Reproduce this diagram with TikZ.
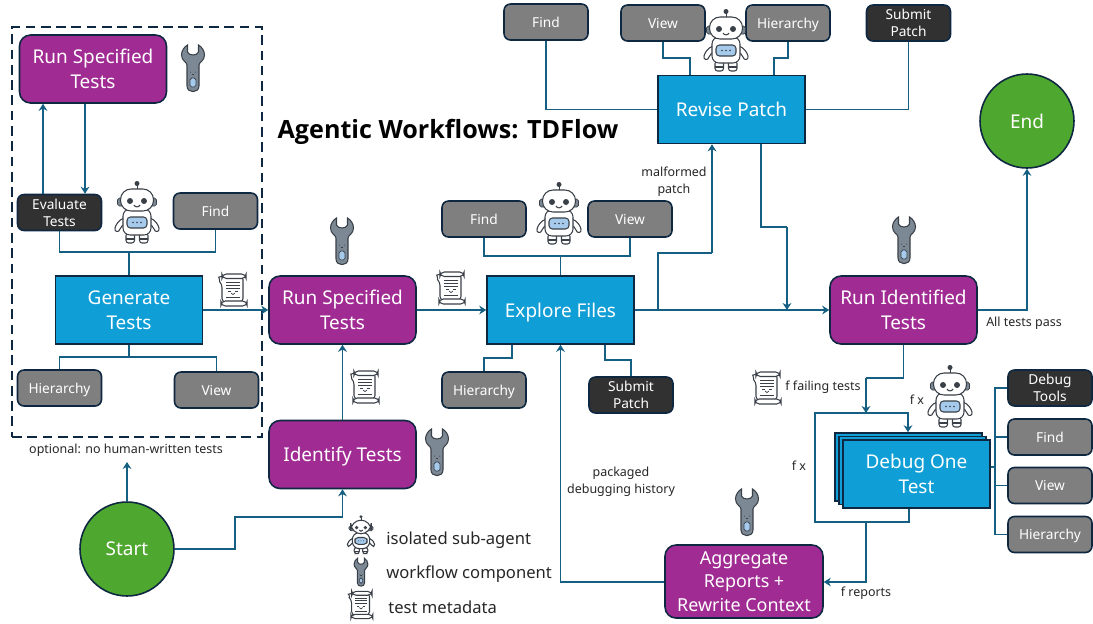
\documentclass[tikz,border=0pt]{standalone}
\usepackage{fontspec}
\setmainfont{Noto Sans}
\newfontfamily\titlefont{Open Sans}
\usetikzlibrary{arrows.meta}

\definecolor{linkteal}{HTML}{156082}
\definecolor{edgenavy}{HTML}{0E2841}
\definecolor{boxblue}{HTML}{0F9ED5}
\definecolor{boxpurple}{HTML}{A02B93}
\definecolor{boxgreen}{HTML}{4EA72E}
\definecolor{toolgrey}{HTML}{7F7F7F}
\definecolor{tooldark}{HTML}{313131}
\definecolor{iconline}{HTML}{3A4048}
\definecolor{iconblue}{HTML}{A6CAEC}
\definecolor{icongrey}{HTML}{7C8994}

\tikzset{
  bigtext/.style={font=\fontsize{10.8}{14}\selectfont, text=white, align=center, text depth=-1pt},
  smalltext/.style={font=\fontsize{7.8}{9.6}\selectfont, text=white, align=center, text depth=-1pt},
  labeltext/.style={font=\fontsize{7.1}{9.6}\selectfont, text=black!85, align=center, inner sep=0pt},
  legendtext/.style={font=\fontsize{9.45}{11}\selectfont, text=black!85, anchor=west, inner sep=0pt},
  purplebox/.style={draw=edgenavy, line width=0.9pt, fill=boxpurple, rounded corners=0.22cm,
    minimum width=2.94cm, minimum height=1.36cm, inner sep=0pt, bigtext},
  bluebox/.style={draw=edgenavy, line width=0.9pt, fill=boxblue,
    minimum width=2.94cm, minimum height=1.36cm, inner sep=0pt, bigtext},
  toolbox/.style={draw=edgenavy, line width=0.9pt, fill=toolgrey, rounded corners=0.13cm,
    minimum width=1.68cm, minimum height=0.72cm, inner sep=0pt, smalltext},
  darkbox/.style={toolbox, fill=tooldark},
  endpoint/.style={circle, draw=edgenavy, line width=0.9pt, fill=boxgreen,
    minimum size=1.88cm, inner sep=0pt, bigtext},
  link/.style={draw=linkteal, line width=0.95pt},
  arrowlink/.style={link, -{Stealth[length=4pt,width=5pt]}},
  robot/.pic={
    \draw[iconline, line width=0.5pt] (0,-24) -- (0,-28);
    \fill[iconline] (0,-29.5) circle (2.5);
    \fill[icongrey, draw=iconline, line width=0.4pt, rounded corners=1pt] (-19.5,-15) rectangle (19.5,-7);
    \draw[iconline, line width=0.6pt, fill=white] (-13,5) .. controls (-18,7) and (-21,11) .. (-22,15)
      .. controls (-23,19) and (-18,20) .. (-17,16) .. controls (-16,13) and (-14,12) .. (-12,11) -- cycle;
    \draw[iconline, line width=0.6pt, fill=white] (13,5) .. controls (18,7) and (21,11) .. (22,15)
      .. controls (23,19) and (18,20) .. (17,16) .. controls (16,13) and (14,12) .. (12,11) -- cycle;
    \draw[iconline, line width=0.6pt, fill=white, rounded corners=1.5pt] (-11,20) rectangle (-2.5,30);
    \draw[iconline, line width=0.6pt, fill=white, rounded corners=1.5pt] (2.5,20) rectangle (11,30);
    \draw[iconline, line width=0.6pt] (-11,26) -- (-2.5,26) (2.5,26) -- (11,26);
    \draw[iconline, line width=0.6pt, fill=white, rounded corners=4pt] (-14,-4) rectangle (14,22);
    \draw[iconline, line width=0.6pt, fill=white, rounded corners=6pt] (-16.5,-24) rectangle (16.5,-2);
    \fill[iconline] (-7,-12) circle (3) (7,-12) circle (3);
    \draw[iconline, line width=0.6pt] (-3,-8) .. controls (-1.5,-5.5) and (1.5,-5.5) .. (3,-8);
    \draw[iconline, line width=0.6pt, fill=iconblue, rounded corners=2pt] (-10,4) rectangle (10,15);
    \fill[iconline] (-4,9.5) circle (0.8) (0,9.5) circle (0.8) (4,9.5) circle (0.8);
  },
  wrench/.pic={
    \draw[iconline, line width=0.6pt, fill=icongrey]
      (-6,-3) .. controls (-6,-6) and (-11.5,-7) .. (-11.5,-13)
      .. controls (-11.5,-17) and (-9,-21) .. (-5.5,-23) -- (-5.5,-16)
      .. controls (-4,-12) and (4,-12) .. (5.5,-16) -- (5.5,-23)
      .. controls (9,-21) and (11.5,-17) .. (11.5,-13)
      .. controls (11.5,-7) and (6,-6) .. (6,-3) -- (6,18)
      .. controls (6,25.5) and (-6,25.5) .. (-6,18) -- cycle;
    \draw[iconline, line width=0.4pt, fill=iconblue, rounded corners=1pt] (-3,10) rectangle (3,19);
    \fill[iconline] (-2.5,4) circle (0.5) (2.5,4) circle (0.5);
    \draw[iconline, line width=0.3pt] (-1,6) -- (1,6);
  },
  scroll/.pic={
    \draw[iconline, line width=0.6pt, fill=white, rounded corners=2pt]
      (-11,-14) .. controls (-14,-13) and (-13,-8) .. (-11,-6) -- (-11,12)
      -- (10,12) -- (10,-14) -- cycle;
    \draw[iconline, line width=0.6pt, fill=white, rounded corners=2.5pt] (-11,-16) rectangle (13,-11.5);
    \draw[iconline, line width=0.6pt, fill=white, rounded corners=2.5pt] (-12,11) rectangle (14,16);
    \draw[iconline, line width=0.4pt] (-7,-8) -- (7,-8) (-7,-5) -- (7,-5) (-7,-2) -- (7,-2) (-7,7) -- (7,7);
    \draw[iconline, line width=0.4pt] (-5,1) -- (-2,1) (2,1) -- (5,1);
    \draw[iconline, line width=0.4pt] (-2,3) .. controls (-1,5) and (1,5) .. (2,3);
  },
}

\begin{document}
\begin{tikzpicture}[x=0.02cm, y=-0.02cm]
\useasboundingbox (0,0) rectangle (1093,623);

% optional test generation box
\node[draw=edgenavy, line width=1.4pt, dash pattern=on 5.5pt off 3.2pt, minimum width=5cm, minimum height=8.2cm,
  inner sep=0pt] (optional) at (137,232) {};
\node[purplebox] (runa) at (93,69) {Run Specified\\Tests};
\node[darkbox] (evala) at (59.5,212.5) {Evaluate\\Tests};
\node[toolbox] (finda) at (215.5,211) {Find};
\node[bluebox] (gena) at (129,310) {Generate\\Tests};
\node[toolbox] (hiera) at (59.5,388) {Hierarchy};
\node[toolbox] (viewa) at (216.5,390) {View};
\node[labeltext] (optlabel) at (126,450) {optional: no human-written tests};

% main row
\node[purplebox] (runb) at (342.5,310) {Run Specified\\Tests};
\node[purplebox] (ident) at (342.5,454.5) {Identify Tests};
\node[bluebox] (expl) at (560.5,310) {Explore Files};
\node[toolbox] (findb) at (484,219) {Find};
\node[toolbox] (viewb) at (630,219) {View};
\node[toolbox] (hierb) at (484,390) {Hierarchy};
\node[darkbox] (subb) at (631,395) {Submit\\Patch};
\node[purplebox] (runc) at (903.5,310) {Run Identified\\Tests};
\node[endpoint] (finish) at (1027,121) {End};
\node[endpoint] (begin) at (127,549) {Start};

% revise patch
\node[bluebox] (revise) at (731.5,109.5) {Revise Patch};
\node[toolbox] (findc) at (546,22) {Find};
\node[toolbox] (viewc) at (663,23) {View};
\node[toolbox] (hierc) at (788,23) {Hierarchy};
\node[darkbox] (subc) at (908.5,23) {Submit\\Patch};

% debug loop
\node[darkbox] (dtools) at (1050,388) {Debug\\Tools};
\node[toolbox] (findd) at (1050,437) {Find};
\node[toolbox] (viewd) at (1050,485.5) {View};
\node[toolbox] (hierd) at (1050,534.5) {Hierarchy};
\node[bluebox] (debugc) at (908.5,467) {};
\node[bluebox] (debugb) at (912.5,470.5) {};
\node[bluebox] (debug) at (916.5,474) {Debug One\\Test};
\node[purplebox, font=\fontsize{10.2}{13.2}\selectfont, text depth=-2.4pt, minimum width=3.16cm, minimum height=1.46cm] (aggr) at (744,581.5)
  {Aggregate\\Reports +\\Rewrite Context};

\node[font=\titlefont\bfseries\fontsize{14.3}{16}\selectfont, text=black] (title) at (448,131.5) {Agentic Workflows: TDFlow};
\node[labeltext] (malformed) at (674,182) {malformed\\patch};
\node[labeltext] (packaged) at (621,482) {packaged\\debugging history};
\node[labeltext] (allpass) at (1024,323) {All tests pass};
\node[labeltext] (ffail) at (823,387) {f failing tests};
\node[labeltext] (fxa) at (917,400) {f x};
\node[labeltext] (fxb) at (799,466) {f x};
\node[labeltext] (freport) at (866,593) {f reports};

% legend
\node[legendtext] (legrobot) at (386,540) {isolated sub-agent};
\node[legendtext] (legwrench) at (386,574) {workflow component};
\node[legendtext] (legscroll) at (388,607) {test metadata};

% junction points
\coordinate (busa) at (129,252);
\coordinate (busb) at (129,357);
\coordinate (busc) at (560.5,256);
\coordinate (hiturn) at (512,358);
\coordinate (subturn) at (605,360);
\coordinate (viewturn) at (690,58);
\coordinate (hierturn) at (774,58);
\coordinate (malturn) at (658,253);
\coordinate (malup) at (712,253);
\coordinate (revturn) at (761,227);
\coordinate (revdown) at (787,227);
\coordinate (startfree) at (127,462);
\coordinate (startturn) at (235,517);
\coordinate (loopa) at (815,413);
\coordinate (loopb) at (815,522);
\coordinate (loopdrop) at (866,522);
\coordinate (failturn) at (866,378);
\coordinate (bus) at (995,467);
\coordinate (reportturn) at (866,582);
\coordinate (passturn) at (1027,310);

% tools
\draw[link] (evala.south) |- (busa) -| (finda.south);
\draw[link] (busa) -- (gena.north);
\draw[link] (gena.south) -- (busb);
\draw[link] (hiera.north) |- (busb) -| (viewa.north);
\draw[link] (findb.south) |- (busc) -| (viewb.south);
\draw[link] (busc) -- (expl.north);
\draw[link] (hierb.north) |- (hiturn) -- (hiturn |- expl.south);
\draw[link] (subb.north) |- (subturn) -- (subturn |- expl.south);
\draw[link] (findc.south) |- (revise.west);
\draw[link] (subc.south) |- (revise.east);
\draw[link] (viewc.south) |- (viewturn) -- (viewturn |- revise.north);
\draw[link] (hierc.south) |- (hierturn) -- (hierturn |- revise.north);
\draw[link] (debug.east |- bus) -- (bus);
\draw[link] (dtools.west) -| (bus);
\draw[link] (findd.west) -| (bus);
\draw[link] (viewd.west) -| (bus);
\draw[link] (hierd.west) -| (bus);

% flow
\draw[arrowlink] (runa.south -| 85,0) -- (evala.north -| 85,0);
\draw[arrowlink] (evala.north -| 43,0) -- (runa.south -| 43,0);
\draw[arrowlink] (gena.east) -- (runb.west);
\draw[arrowlink] (runb.east) -- (expl.west);
\draw[arrowlink] (ident.north) -- (runb.south);
\draw[arrowlink] (begin.north) -- (startfree);
\draw[arrowlink] (begin.east) -| (startturn) -| (ident.south);
\draw[arrowlink] (expl.east) -- (runc.west);
\draw[link] (malturn |- expl.east) -- (malturn) -- (malup);
\draw[arrowlink] (malup) -- (malup |- revise.south);
\draw[link] (revturn |- revise.south) -- (revturn) -- (revdown);
\draw[arrowlink] (revdown) -- (revdown |- runc.west);
\draw[arrowlink] (runc.east) -| (passturn) -- (finish.south);
\draw[link] (runc.south) |- (failturn);
\draw[arrowlink] (failturn) -- (failturn |- loopa);
\draw[arrowlink] (debug.south -| 909,0) |- (loopb) -- (loopa) -| (debugc.north -| 908,0);
\draw[arrowlink] (loopdrop) |- (aggr.east |- reportturn);
\draw[arrowlink] (aggr.west |- reportturn) -| (expl.south);

% icons
\pic at (193,68) {wrench};
\pic at (342,241) {wrench};
\pic at (437,452) {wrench};
\pic at (904,240) {wrench};
\pic at (747,512) {wrench};
\pic at (137,213) {robot};
\pic at (559,214) {robot};
\pic at (726,41) {robot};
\pic at (950,397) {robot};
\pic at (233,290) {scroll};
\pic at (451,288) {scroll};
\pic at (365,387) {scroll};
\pic at (767,388) {scroll};
\pic[scale=0.62] at (361,535) {robot};
\pic[scale=0.6] at (361,572) {wrench};
\pic[scale=0.85] at (361,605) {scroll};
\end{tikzpicture}
\end{document}
